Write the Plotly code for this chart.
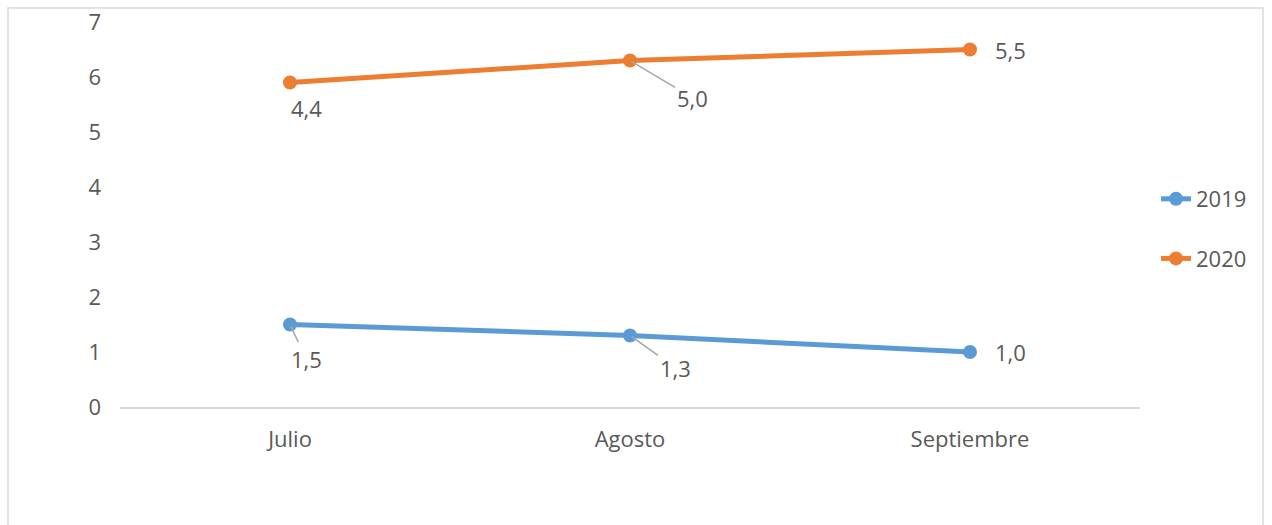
import numpy as np
import plotly.graph_objects as go

months = ["Julio", "Agosto", "Septiembre"]
series_names = ["2019", "2020"]
values_2019 = [1.5, 1.3, 1.0]
values_2020 = [4.4, 5.0, 5.5]
colors = ["#5B9BD5", "#ED7D31"]
y_ticks = [0, 1, 2, 3, 4, 5, 6, 7]

# stacked line chart: each series sits on top of the previous one
stacked = np.cumsum(np.array([values_2019, values_2020]), axis=0)
raw = [values_2019, values_2020]

FONT = "Open Sans"
TXT = "#595959"

fig = go.Figure()
for i, name in enumerate(series_names):
    fig.add_trace(go.Scatter(
        x=months, y=stacked[i], name=name, mode="lines+markers",
        line=dict(color=colors[i], width=5),
        marker=dict(color=colors[i], size=14),
        legendgroup=name,
    ))

# label placement (pixel offsets from the point) and whether a leader line is shown
label_style = {
    (0, 0): (16, 34, True), (0, 1): (45, 32, True), (0, 2): (40, 0, False),
    (1, 0): (16, 25, False), (1, 1): (62, 37, True), (1, 2): (40, 0, False),
}
for i in range(2):
    for j, m in enumerate(months):
        dx, dy, leader = label_style[(i, j)]
        txt = f"{raw[i][j]:.1f}".replace(".", ",")
        if leader:
            fig.add_annotation(x=m, y=stacked[i][j], text=txt, showarrow=True,
                               ax=dx, ay=dy, arrowhead=0, arrowwidth=1.5,
                               arrowcolor="#A6A6A6", standoff=2,
                               font=dict(family=FONT, size=22, color=TXT))
        else:
            fig.add_annotation(x=m, y=stacked[i][j], text=txt, showarrow=False,
                               xshift=dx, yshift=-dy,
                               font=dict(family=FONT, size=22, color=TXT))

# chart border
fig.add_shape(type="rect", xref="paper", yref="paper",
              x0=-0.1098, x1=1.1206, y0=-0.35, y1=1.0364,
              line=dict(color="#D9D9D9", width=1.5), fillcolor="rgba(0,0,0,0)",
              layer="below")

fig.update_layout(
    width=1272, height=525,
    margin=dict(l=120, r=132, t=22, b=118, autoexpand=False),
    paper_bgcolor="white", plot_bgcolor="white",
    font=dict(family=FONT, size=22, color=TXT),
    showlegend=True,
    legend=dict(x=1.0157, xanchor="left", y=0.4623, yanchor="middle",
                traceorder="grouped", tracegroupgap=28,
                font=dict(family=FONT, size=22, color=TXT),
                bgcolor="rgba(0,0,0,0)"),
    xaxis=dict(range=[-0.5, 2.5], showgrid=False, zeroline=False,
               showline=True, linecolor="#D9D9D9", linewidth=1.5,
               ticks="", ticklabelstandoff=12, automargin=False,
               tickfont=dict(family=FONT, size=22, color=TXT)),
    yaxis=dict(range=[0, 7], tickvals=y_ticks, showgrid=False, zeroline=False,
               showline=False, ticks="", ticklabelstandoff=18,
               ticklabeloverflow="allow", automargin=False,
               tickfont=dict(family=FONT, size=22, color=TXT)),
)

fig.write_html("out.html", config={"displayModeBar": False},
               post_script="document.body.style.margin='0';document.body.style.overflow='hidden';")
